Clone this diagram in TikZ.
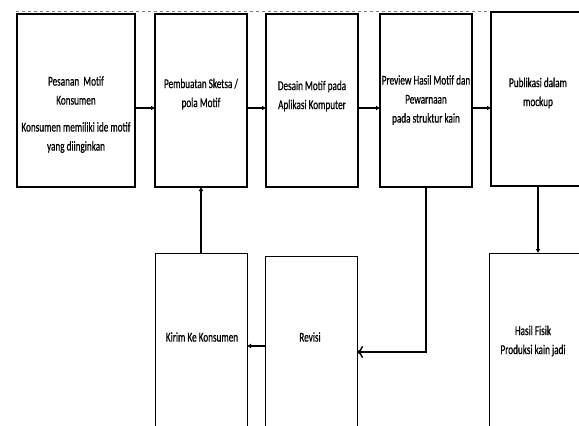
\documentclass[tikz,border=0pt]{standalone}
\usepackage{fontspec}
\setmainfont{Carlito}[FakeStretch=0.68,FakeBold=0.6]
\usetikzlibrary{arrows.meta,calc}
\begin{document}
\begin{tikzpicture}[x=1pt,y=-1pt,
  box/.style={draw,rectangle,inner sep=0pt,outer sep=0pt,line width=1.3pt},
  lbox/.style={draw,rectangle,inner sep=0pt,outer sep=0pt,line width=0.9pt},
  txt/.style={align=center,inner sep=0pt,font=\fontsize{13.5}{19}\selectfont},
  arr/.style={line width=1.8pt,-{Latex[length=4pt,width=5pt]}},
  oarr/.style={line width=1.5pt,-{To[length=6pt,width=12pt,line width=1.5pt]}}]
\useasboundingbox (0,0) rectangle (579,426);
\clip (0,0) rectangle (579,426);
\draw[gray,dashed,line width=1pt] (16,11) -- (579,11);
% top row
\node[box,minimum width=118pt,minimum height=173pt] (b1) at (76,100.5) {};
\node[box,minimum width=92pt,minimum height=173pt] (b2) at (201,100.5) {};
\node[box,minimum width=92pt,minimum height=173pt] (b3) at (312,100.5) {};
\node[box,minimum width=92pt,minimum height=173pt] (b4) at (426,100.5) {};
\node[box,minimum width=94pt,minimum height=174pt] (b5) at (538,99) {};
% bottom row
\node[lbox,minimum width=92pt,minimum height=187pt] (k) at (201,346.5) {};
\node[lbox,minimum width=92pt,minimum height=184pt] (r) at (311,348) {};
\node[lbox,minimum width=98pt,minimum height=187pt] (h) at (538,346.5) {};
% texts
\node[txt] (t1a) at (76,90.5) {Pesanan\ \ Motif\\Konsumen};
\node[txt] (t1b) at (76,137.5) {Konsumen memiliki ide motif\\yang diinginkan};
\node[txt] (t2) at (201,94) {Pembuatan Sketsa /\\pola Motif};
\node[txt] (t3) at (312,96) {Desain Motif pada\\Aplikasi Komputer};
\node[txt] (t4) at (426,100) {Preview Hasil Motif dan\\Pewarnaan\\pada struktur kain};
\node[txt] (t5) at (538,93) {Publikasi dalam\\mockup};
\node[txt] (tk) at (202,337) {Kirim Ke Konsumen};
\node[txt] (tr) at (310,337) {Revisi};
\node[txt] (th) at (533,341) {Hasil Fisik\\Produksi kain jadi};
% connectors
\coordinate (ay) at (0,108);
\draw[arr] (b1.east |- ay) -- (b2.west |- ay);
\draw[arr] (b2.east |- ay) -- (b3.west |- ay);
\draw[arr] (b3.east |- ay) -- (b4.west |- ay);
\draw[arr] (b4.east |- ay) -- (b5.west |- ay);
\draw[arr] (k.north) -- (b2.south);
\draw[arr] (b5.south) -- (h.north);
\coordinate (ry) at (0,352);
\draw[oarr] (b4.south) |- (r.east |- ry);
\coordinate (ky) at (0,346);
\draw[arr] (r.west |- ky) -- (k.east |- ky);
\end{tikzpicture}
\end{document}
